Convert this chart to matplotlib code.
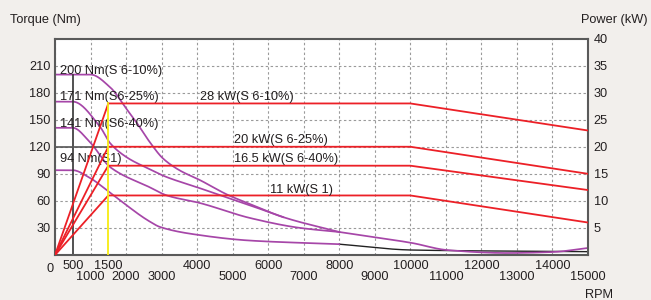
import matplotlib
matplotlib.use("Agg")
import matplotlib.pyplot as plt
import numpy as np

plt.rcParams['font.family'] = ['Liberation Sans', 'DejaVu Sans']

# ---- data ----
# torque curves (Nm) vs rpm
rpm_s6_10 = [0, 1000, 1550, 2030, 2310, 2670, 3040, 3500, 4080, 4870, 5490, 6420, 8000]
trq_s6_10 = [200, 200, 186, 161, 146, 125, 107, 94, 83, 66.5, 56.5, 42, 25.5]
rpm_s6_25 = [0, 500, 1270, 1550, 2030, 2670, 3040, 4080, 5490, 6420]
trq_s6_25 = [170, 170, 142, 124, 108, 95, 88, 74, 55, 42]
rpm_s6_40 = [0, 500, 985, 1550, 2670, 3150, 4080, 5490, 6900, 8000]
trq_s6_40 = [141, 141, 125, 97.5, 75, 66, 57.6, 41, 30, 25.5]
rpm_s1 = [0, 500, 960, 1520, 1720, 2670, 2960, 4080, 5490, 8000]
trq_s1 = [94, 94, 86, 70, 64, 37, 31, 22, 16, 12]
rpm_tail = [8000, 8950, 10050, 11030, 12720, 14000, 15000]
trq_tail = [25.5, 20, 13.3, 5.5, 2.2, 3.3, 7.8]
rpm_tail_s1 = [8000, 10050, 15000]
trq_tail_s1 = [12, 5.5, 3.7]

# power curves (kW) vs rpm
rpm_power = [0, 1500, 10000, 15000]
pwr_28 = [0, 28, 28, 23]
pwr_20 = [0, 20, 20, 15]
pwr_16 = [0, 16.5, 16.5, 12]
pwr_11 = [0, 11, 11, 6]

torque_labels = ["200 Nm(S 6-10%)", "171 Nm(S6-25%)", "141 Nm(S6-40%)", "94 Nm(S1)"]
power_labels = ["28 kW(S 6-10%)", "20 kW(S 6-25%)", "16.5 kW(S 6-40%)", "11 kW(S 1)"]

left_ticks = [30, 60, 90, 120, 150, 180, 210]
right_ticks = [5, 10, 15, 20, 25, 30, 35, 40]
x_grid = list(range(0, 15001, 1000))
x_upper_row = [500, 1500, 4000, 6000, 8000, 10000, 12000, 14000]
x_lower_row = [1000, 2000, 3000, 5000, 7000, 9000, 11000, 13000, 15000]


def pchip(x, y, n=400):
    """Shape-preserving cubic drawn through the read points (drawing only)."""
    x = np.asarray(x, float)
    y = np.asarray(y, float)
    h = np.diff(x)
    d = np.diff(y) / h
    m = np.zeros_like(y)
    for k in range(1, len(x) - 1):
        if d[k - 1] * d[k] <= 0:
            m[k] = 0.0
        else:
            w1 = 2 * h[k] + h[k - 1]
            w2 = h[k] + 2 * h[k - 1]
            m[k] = (w1 + w2) / (w1 / d[k - 1] + w2 / d[k])
    m[0] = d[0]
    m[-1] = d[-1]
    xs = np.linspace(x[0], x[-1], n)
    idx = np.clip(np.searchsorted(x, xs) - 1, 0, len(h) - 1)
    t = (xs - x[idx]) / h[idx]
    h00 = 2 * t**3 - 3 * t**2 + 1
    h10 = t**3 - 2 * t**2 + t
    h01 = -2 * t**3 + 3 * t**2
    h11 = t**3 - t**2
    ys = h00 * y[idx] + h10 * h[idx] * m[idx] + h01 * y[idx + 1] + h11 * h[idx] * m[idx + 1]
    return xs, ys


# ---- styling ----
W, H = 651, 300
PURPLE = '#a646a8'
RED = '#ec2027'
YELLOW = '#f7ec13'
FRAME = '#5a5a5a'
TXT = '#231f20'
BG = '#f2efec'
FS = 9.2

fig = plt.figure(figsize=(W / 100, H / 100), dpi=100, facecolor=BG)
L, R, B, T = 55 / W, 588 / W, 1 - 255 / H, 1 - 38.5 / H
ax = fig.add_axes([L, B, R - L, T - B])
ax.set_facecolor('white')
ax.set_xlim(0, 15000)
ax.set_ylim(0, 240)

# grid on every 1000 rpm (no labels), labels on two rows via secondary axes
ax.set_xticks(x_grid)
ax.set_xticklabels([])
ax.tick_params(axis='x', which='major', length=0)

sec_up = ax.secondary_xaxis('bottom')
sec_up.set_xticks(x_upper_row)
sec_up.set_xticklabels([str(v) for v in x_upper_row])
sec_up.tick_params(axis='x', length=0, pad=3.5, labelsize=FS, labelcolor=TXT)
sec_up.spines['bottom'].set_visible(False)

sec_low = ax.secondary_xaxis('bottom')
sec_low.set_xticks(x_lower_row)
sec_low.set_xticklabels([str(v) for v in x_lower_row])
sec_low.tick_params(axis='x', length=0, pad=11.6, labelsize=FS, labelcolor=TXT)
sec_low.spines['bottom'].set_visible(False)

ax.set_yticks(left_ticks)
ax.tick_params(axis='y', length=0, pad=3.2, labelsize=FS, labelcolor=TXT)

ax.grid(True, which='major', color='#9a9a9a', linestyle=(0, (2.2, 2.2)), linewidth=0.8)
ax.set_axisbelow(True)
for s in ax.spines.values():
    s.set_color(FRAME)
    s.set_linewidth(1.5)

lw = 1.25
for xr, yr in ((rpm_s6_10, trq_s6_10), (rpm_s6_25, trq_s6_25),
               (rpm_s6_40, trq_s6_40), (rpm_s1, trq_s1), (rpm_tail, trq_tail)):
    xs, ys = pchip(xr, yr)
    ax.plot(xs, ys, color=PURPLE, lw=lw)
xs, ys = pchip(rpm_tail_s1, trq_tail_s1)
ax.plot(xs, ys, color='#222222', lw=1.0, zorder=1.9)

# reference lines
ax.plot([500, 500], [0, trq_s6_10[0]], color='#333333', lw=1.2)
ax.plot([0, rpm_power[1]], [120, 120], color='#555555', lw=1.2)

ax2 = ax.twinx()
ax2.set_ylim(0, 40)
ax2.set_yticks(right_ticks)
ax2.tick_params(axis='y', length=0, pad=4, labelsize=FS, labelcolor=TXT)
for s in ax2.spines.values():
    s.set_visible(False)
ax2.patch.set_visible(False)
for p in (pwr_28, pwr_20, pwr_16, pwr_11):
    ax2.plot(rpm_power, p, color=RED, lw=1.3)
ax2.plot([rpm_power[1], rpm_power[1]], [0, pwr_28[1]], color=YELLOW, lw=1.3)

# in-plot labels
tk = dict(fontsize=FS, color=TXT, va='center', ha='left')
ax.text(150, 204, torque_labels[0], **tk)
ax.text(150, 175, torque_labels[1], **tk)
ax.text(150, 145, torque_labels[2], **tk)
ax.text(150, 106, torque_labels[3], **tk)
ax2.text(4070, 29.1, power_labels[0], **tk)
ax2.text(5050, 21.2, power_labels[1], **tk)
ax2.text(5050, 17.7, power_labels[2], **tk)
ax2.text(6050, 12.1, power_labels[3], **tk)

fig.text(10 / W, 1 - 20 / H, "Torque (Nm)", fontsize=FS, color=TXT, va='center', ha='left')
fig.text(648 / W, 1 - 20 / H, "Power (kW)", fontsize=FS, color=TXT, va='center', ha='right')
fig.text(599 / W, 1 - 295 / H, "RPM", fontsize=FS, color=TXT, va='center', ha='center')
fig.text(50 / W, 1 - 269 / H, "0", fontsize=FS, color=TXT, va='center', ha='center')

fig.savefig("out.png", dpi=100, facecolor=BG)
